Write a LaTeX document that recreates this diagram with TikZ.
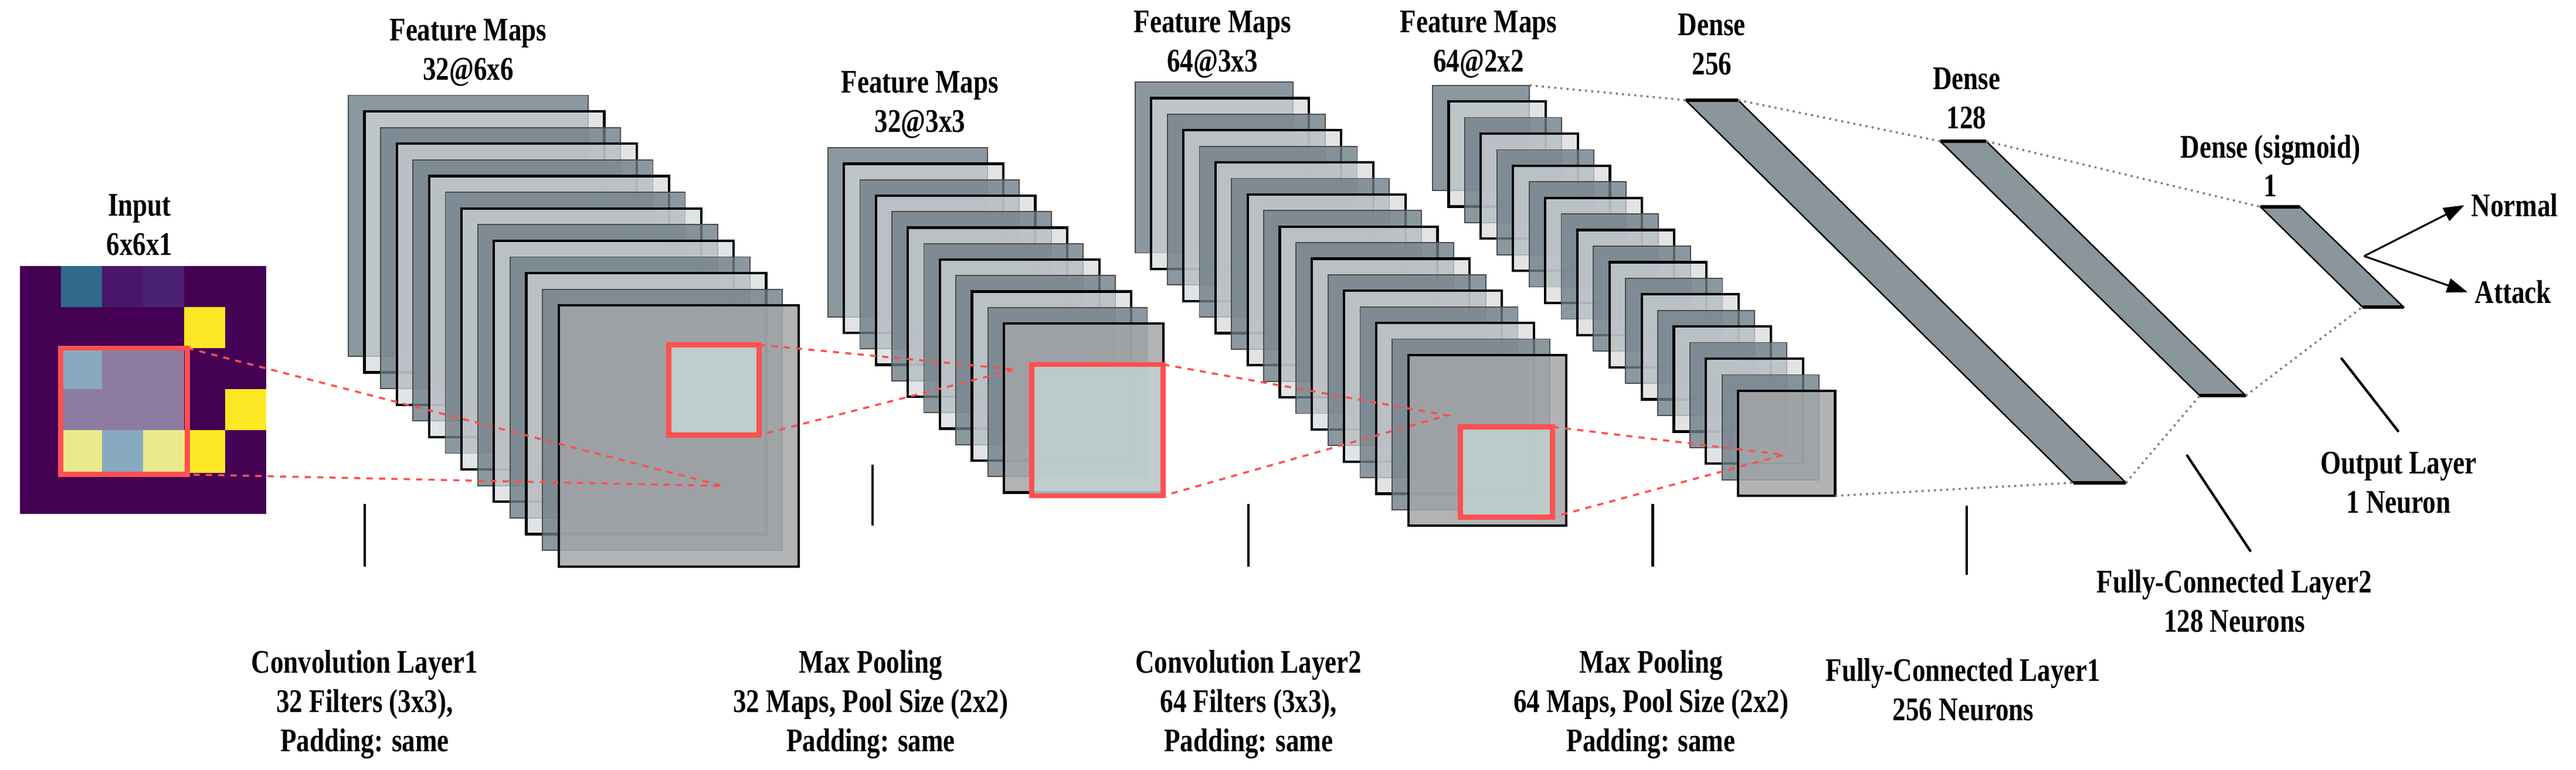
\documentclass[tikz,border=0pt]{standalone}
\usepackage{fontspec}
\setmainfont{Liberation Serif}[FakeStretch=0.8]
\usetikzlibrary{arrows.meta}

\definecolor{vdark}{HTML}{440154}
\definecolor{vteal}{HTML}{2F6A8D}
\definecolor{vpurp}{HTML}{481769}
\definecolor{vpurq}{HTML}{4A2273}
\definecolor{vyell}{HTML}{FDE725}
\definecolor{ovpur}{HTML}{8E7BA1}
\definecolor{ovblue}{HTML}{87A9C0}
\definecolor{ovyell}{HTML}{EAEA8A}
\definecolor{slate}{HTML}{6F7E88}
\definecolor{mapred}{HTML}{FF5050}
\definecolor{winfill}{HTML}{C2D2D2}
\definecolor{densefill}{HTML}{8A959C}
\definecolor{lastfill}{HTML}{A3A6A8}

\tikzset{
  lbl/.style={align=center, font=\fontsize{16}{19}\selectfont\bfseries},
  mapdark/.style={fill=slate, fill opacity=0.8, draw=black!70, line width=0.5pt},
  maplight/.style={fill=white!70!slate, fill opacity=0.7, draw=black, line width=1.2pt},
  maplast/.style={fill=lastfill, fill opacity=0.85, draw=black, line width=1.2pt},
  redbox/.style={draw=mapred, line width=2.4pt},
  reddash/.style={draw=mapred, dashed, line width=1pt},
  link/.style={draw=gray, dotted, line width=1pt},
  dense/.style={fill=densefill, draw=black, line width=0.7pt},
  tick/.style={draw=black, line width=1.2pt}
}

% stack of feature maps: name, x, y, w, h, count, step
\newcommand{\fmstack}[7]{%
  \foreach \i in {1,...,#6}{
    \pgfmathsetmacro{\px}{#2+(\i-1)*#7}
    \pgfmathsetmacro{\py}{#3+(\i-1)*#7}
    \ifodd\i \def\sty{mapdark}\else\def\sty{maplight}\fi
    \ifnum\i=#6 \def\sty{maplast}\fi
    \draw[\sty] (\px,\py) rectangle ++(#4,#5);
  }
  \coordinate (#1-tr) at (#2+#4,#3);
  \coordinate (#1-br) at ({#2+(#6-1)*#7+#4},{#3+(#6-1)*#7+#5});
}

\begin{document}
\begin{tikzpicture}[x=0.028cm, y=-0.028cm]
\useasboundingbox (0,0) rectangle (1568,469);

% input grid
\fill[vdark] (12,162) rectangle (162,313);
\fill[vteal] (37,162) rectangle (62,187);
\fill[vpurp] (62,162) rectangle (87,187);
\fill[vpurq] (87,162) rectangle (112,187);
\fill[vyell] (112,187) rectangle (137,212);
\fill[vyell] (137,237) rectangle (162,262);
\fill[vyell] (112,262) rectangle (137,288);
\fill[ovpur] (37,212) rectangle (112,262);
\fill[ovblue] (37,212) rectangle (62,237);
\fill[ovyell] (37,262) rectangle (62,288);
\fill[ovblue] (62,262) rectangle (87,288);
\fill[ovyell] (87,262) rectangle (112,288);
\draw[redbox] (37,212) rectangle (114,289);
\coordinate (in-tr) at (114,212);
\coordinate (in-br) at (114,289);
\node[lbl] (input) at (85,137) {Input\\6x6x1};

% feature map stacks
\fmstack{c1}{212}{58}{146}{159}{14}{9.85}
\fmstack{p1}{504}{90}{97}{103}{12}{9.73}
\fmstack{c2}{691}{50}{96}{104}{18}{9.78}
\fmstack{p2}{872}{52}{59}{64}{20}{9.79}

% windows
\draw[redbox, fill=winfill, fill opacity=0.9] (407,210) rectangle (462,265);
\draw[redbox, fill=winfill, fill opacity=0.85] (628,222) rectangle (708,302);
\draw[redbox, fill=winfill, fill opacity=0.85] (889,260) rectangle (945,315);
\coordinate (w1-t) at (462,210);
\coordinate (w1-b) at (462,265);
\coordinate (w2-t) at (708,222);
\coordinate (w2-b) at (708,302);
\coordinate (w3-t) at (945,260);
\coordinate (w3-b) at (945,315);
\coordinate (a1) at (440,296);
\coordinate (a2) at (618,225);
\coordinate (a3) at (881,253);
\coordinate (a4) at (1086,277);
\draw[reddash] (in-tr) -- (a1) -- (in-br);
\draw[reddash] (w1-t) -- (a2) -- (w1-b);
\draw[reddash] (w2-t) -- (a3) -- (w2-b);
\draw[reddash] (w3-t) -- (a4) -- (w3-b);

% dense layers
\draw[dense] (1026,61) coordinate (d1-tl) -- (1058,61) coordinate (d1-tr)
  -- (1294,294) coordinate (d1-br) -- (1262,294) coordinate (d1-bl) -- cycle;
\draw[dense] (1181,86) coordinate (d2-tl) -- (1209,86) coordinate (d2-tr)
  -- (1367,241) coordinate (d2-br) -- (1339,241) coordinate (d2-bl) -- cycle;
\draw[dense] (1376,126) coordinate (d3-tl) -- (1400,126) coordinate (d3-tr)
  -- (1463,187) coordinate (d3-br) -- (1438,187) coordinate (d3-bl) -- cycle;
\foreach \d in {d1,d2,d3}{
  \draw[line width=1.6pt] (\d-tl) -- (\d-tr);
  \draw[line width=1.6pt] (\d-bl) -- (\d-br);
}
\draw[link] (p2-tr) -- (d1-tl);
\draw[link] (d1-tr) -- (d2-tl);
\draw[link] (d2-tr) -- (d3-tl);
\draw[link] (p2-br) -- (d1-bl);
\draw[link] (d1-br) -- (d2-bl);
\draw[link] (d2-br) -- (d3-bl);

% outputs
\coordinate (out) at (1439,156);
\node[lbl, anchor=west] (normal) at (1500,125) {Normal};
\node[lbl, anchor=west] (attack) at (1502,178) {Attack};
\draw[-{Triangle[length=10pt,width=7pt]}, line width=0.9pt] (out) -- (normal.west);
\draw[-{Triangle[length=10pt,width=7pt]}, line width=0.9pt] (out) -- (attack.west);

% top labels
\node[lbl] (fm1) at (285,32) {Feature Maps\\32@6x6};
\node[lbl] (fm2) at (560,64) {Feature Maps\\32@3x3};
\node[lbl] (fm3) at (738,27) {Feature Maps\\64@3x3};
\node[lbl] (fm4) at (900,27) {Feature Maps\\64@2x2};
\node[lbl] (dn1) at (1042,27) {Dense\\256};
\node[lbl] (dn2) at (1197,60) {Dense\\128};
\node[lbl] (dn3) at (1382,101) {Dense (sigmoid)\\1};

% bottom labels
\node[lbl] (l1) at (222,429) {Convolution Layer1\\32 Filters (3x3),\\Padding: same};
\node[lbl] (l2) at (530,429) {Max Pooling\\32 Maps, Pool Size (2x2)\\Padding: same};
\node[lbl] (l3) at (760,429) {Convolution Layer2\\64 Filters (3x3),\\Padding: same};
\node[lbl] (l4) at (1005,429) {Max Pooling\\64 Maps, Pool Size (2x2)\\Padding: same};
\node[lbl] (l5) at (1195,420) {Fully-Connected Layer1\\256 Neurons};
\node[lbl] (l6) at (1360,366) {Fully-Connected Layer2\\128 Neurons};
\node[lbl] (l7) at (1460,294) {Output Layer\\1 Neuron};
\draw[tick] (222,307) -- (222,345);
\draw[tick] (531,283) -- (531,320);
\draw[tick] (760,307) -- (760,345);
\draw[tick] (1006,307) -- (1006,345);
\draw[tick] (1197,308) -- (1197,350);
\draw[tick] (1331,277) -- (1370,336);
\draw[tick] (1425,218) -- (1460,263);
\end{tikzpicture}
\end{document}
